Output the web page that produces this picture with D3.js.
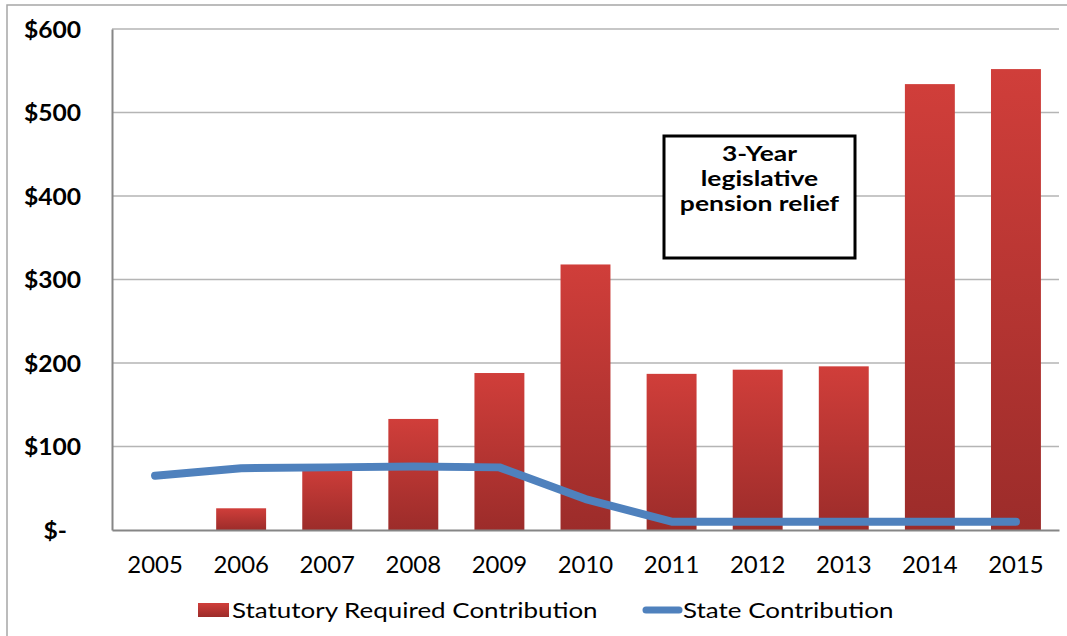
<!DOCTYPE html>
<html><head><meta charset="utf-8">
<script src="https://cdn.jsdelivr.net/npm/d3@7"></script>
<style>body{margin:0;background:#fff}svg{display:block;font-family:Lato,"Open Sans",sans-serif}</style>
</head><body><svg id="c" width="1067" height="636"></svg>
<script>
const years = ["2005","2006","2007","2008","2009","2010","2011","2012","2013","2014","2015"];
const statutory = [0, 26, 78, 133, 188, 318, 187, 192, 196, 534, 552];
const stateContrib = [65, 74, 75, 76, 75, 37, 10, 10, 10, 10, 10];
const yTicks = [0, 100, 200, 300, 400, 500, 600];
const legendLabels = ["Statutory Required Contribution", "State Contribution"];
const noteLines = ["3-Year", "legislative", "pension relief"];

const svg = d3.select("#c");
const m = {l:112, r:1059, t:29, b:530};
const x = d3.scaleBand().domain(years).range([m.l, m.r]).paddingInner(0.42).paddingOuter(0.21);
const xc = d3.scalePoint().domain(years).range([m.l, m.r]).padding(0.5);
const y = d3.scaleLinear().domain([0, 600]).range([m.b, m.t]);

function stretch(sel, f) {
  sel.each(function(){
    const w = this.getComputedTextLength();
    d3.select(this).attr("textLength", w*f).attr("lengthAdjust","spacingAndGlyphs");
  });
}

const defs = svg.append("defs");
const g = defs.append("linearGradient").attr("id","bar").attr("x1",0).attr("y1",0).attr("x2",0).attr("y2",1);
g.append("stop").attr("offset","0%").attr("stop-color","#d03e3a");
g.append("stop").attr("offset","100%").attr("stop-color","#9c2c2a");

// outer border
svg.append("rect").attr("x",7).attr("y",5).attr("width",1100).attr("height",700)
  .attr("fill","none").attr("stroke","#a6a6a6").attr("stroke-width",1.5);

// gridlines
svg.append("g").selectAll("line").data(yTicks.filter(d=>d>0)).join("line")
  .attr("x1",m.l).attr("x2",m.r).attr("y1",d=>y(d)).attr("y2",d=>y(d))
  .attr("stroke","#b5b5b5").attr("stroke-width",1.5);

// y axis
const ya = svg.append("g").attr("transform",`translate(${m.l},0)`)
  .call(d3.axisLeft(y).tickValues(yTicks).tickSize(0).tickPadding(31)
    .tickFormat(d => d === 0 ? "$-" : "$" + d));
ya.select(".domain").attr("stroke","#868686").attr("stroke-width",2);
ya.selectAll("text").attr("font-size",23).attr("font-weight","bold").attr("fill","#000")
  .attr("font-family","Lato,sans-serif")
  .attr("dx", d => d === 0 ? -14 : 0).attr("dy","0.36em");
stretch(ya.selectAll("text"), 1.07);

// bars
svg.append("g").selectAll("rect").data(years.map((yr,i)=>({yr, v:statutory[i]}))).join("rect")
  .attr("x",d=>x(d.yr)).attr("width",x.bandwidth())
  .attr("y",d=>y(d.v)).attr("height",d=>y(0)-y(d.v)).attr("fill","url(#bar)");

// x axis
const xa = svg.append("g").attr("transform",`translate(0,${m.b})`)
  .call(d3.axisBottom(x).tickSize(0).tickPadding(27));
xa.select(".domain").attr("stroke","#868686").attr("stroke-width",2);
xa.selectAll("text").attr("font-size",23).attr("fill","#000").attr("font-family","Lato,sans-serif");
stretch(xa.selectAll("text"), 1.04);

// line
const line = d3.line().x((d,i)=>xc(years[i])).y(d=>y(d));
svg.append("path").datum(stateContrib).attr("d",line).attr("fill","none")
  .attr("stroke","#4f81bd").attr("stroke-width",8).attr("stroke-linecap","round").attr("stroke-linejoin","round");

// annotation box
const bx = 664, by = 136, bw = 191, bh = 122;
svg.append("rect").attr("x",bx).attr("y",by).attr("width",bw).attr("height",bh)
  .attr("fill","#fff").attr("stroke","#000").attr("stroke-width",3);
const nt = svg.append("g").selectAll("text").data(noteLines).join("text")
  .attr("x",bx+bw/2).attr("y",(d,i)=>161+i*25).attr("text-anchor","middle")
  .attr("font-size",20.5).attr("font-weight","bold").text(d=>d);
stretch(nt, 1.29);

// legend
const lg = svg.append("g");
lg.append("rect").attr("x",198).attr("y",603).attr("width",31).attr("height",14).attr("fill","url(#bar)");
const t1 = lg.append("text").attr("x",232).attr("y",618).attr("font-size",22).text(legendLabels[0]);
lg.append("line").attr("x1",646).attr("x2",679).attr("y1",610).attr("y2",610)
  .attr("stroke","#4f81bd").attr("stroke-width",7).attr("stroke-linecap","round");
const t2 = lg.append("text").attr("x",683).attr("y",618).attr("font-size",22).text(legendLabels[1]);
stretch(t1, 1.18); stretch(t2, 1.18);
</script></body></html>
